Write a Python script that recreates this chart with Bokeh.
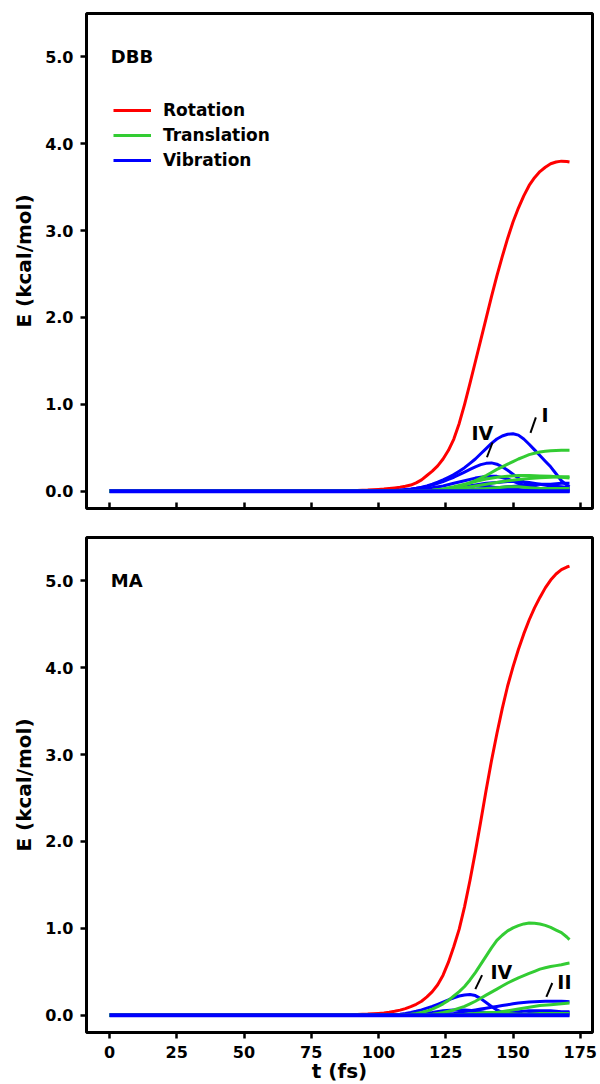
from bokeh.plotting import figure
from bokeh.layouts import column
from bokeh.models import (Range1d, FixedTicker, Label, Legend, LegendItem,
                          NumeralTickFormatter)
from bokeh.embed import file_html
from bokeh.resources import INLINE

# ---------------- data ----------------
# coarse time grid (fs) for the small curves
time_fs = [0, 40, 80, 84, 88, 92, 96, 100, 104, 108, 112, 116, 120, 124, 128,
           132, 136, 140, 144, 148, 152, 156, 160, 164, 168, 171]
# fine time grid (fs) for the big curves
time_fine = [0, 50, 90, 96] + list(range(100, 171, 2)) + [171]

# ----- DBB panel (kcal/mol) -----
dbb_rotation = [0, 0, 0.005, 0.012,
                0.02, 0.024, 0.03, 0.037, 0.045, 0.056, 0.07, 0.095, 0.13, 0.18,
                0.23, 0.29, 0.37, 0.47, 0.60, 0.78, 1.00, 1.24, 1.49, 1.74,
                1.99, 2.24, 2.48, 2.70, 2.91, 3.10, 3.26, 3.40, 3.52, 3.61,
                3.68, 3.73, 3.77, 3.79, 3.80, 3.795,
                3.79]
dbb_vib_I = [0, 0, 0, 0,
             0, 0.002, 0.005, 0.008, 0.012, 0.018, 0.025, 0.034, 0.045, 0.06,
             0.08, 0.103, 0.13, 0.16, 0.19, 0.23, 0.27, 0.32, 0.37, 0.43,
             0.49, 0.55, 0.60, 0.635, 0.655, 0.66, 0.645, 0.60, 0.54, 0.475,
             0.41, 0.345, 0.28, 0.20, 0.12, 0.07,
             0.05]
dbb_vib_IV = [0, 0, 0, 0,
              0, 0, 0, 0.002, 0.005, 0.012, 0.02, 0.03, 0.04, 0.055,
              0.07, 0.09, 0.11, 0.135, 0.16, 0.19, 0.22, 0.25, 0.28, 0.305,
              0.32, 0.325, 0.31, 0.28, 0.24, 0.195, 0.15, 0.105, 0.07, 0.045,
              0.03, 0.02, 0.01, 0.005, 0, 0,
              0]
dbb_trans_1 = [0, 0, 0, 0,
               0, 0, 0, 0, 0, 0, 0, 0, 0.005, 0.008,
               0.01, 0.015, 0.02, 0.03, 0.04, 0.055, 0.07, 0.095, 0.12, 0.15,
               0.18, 0.215, 0.25, 0.28, 0.31, 0.34, 0.37, 0.395, 0.42, 0.437,
               0.45, 0.458, 0.465, 0.468, 0.47, 0.47,
               0.47]
dbb_trans_2 = [0, 0, 0, 0, 0, 0, 0, 0, 0, 0, 0, 0, 0.01, 0.025, 0.05, 0.08, 0.11,
               0.14, 0.16, 0.17, 0.18, 0.18, 0.175, 0.17, 0.16, 0.15]
dbb_trans_3 = [0, 0, 0, 0, 0, 0, 0, 0, 0, 0, 0, 0, 0, 0.01, 0.02, 0.04, 0.06,
               0.08, 0.10, 0.12, 0.135, 0.145, 0.155, 0.16, 0.165, 0.165]
dbb_trans_4 = [0, 0, 0, 0, 0, 0, 0, 0, 0, 0, 0, 0, 0, 0, 0.005, 0.01, 0.02,
               0.03, 0.04, 0.05, 0.05, 0.04, 0.03, 0.03, 0.03, 0.03]
dbb_vib_3 = [0, 0, 0, 0, 0, 0, 0, 0, 0, 0.005, 0.01, 0.02, 0.04, 0.06, 0.09,
             0.12, 0.15, 0.17, 0.17, 0.14, 0.09, 0.05, 0.02, 0.01, 0, 0]
dbb_vib_4 = [0, 0, 0, 0, 0, 0, 0, 0, 0, 0, 0, 0.005, 0.01, 0.02, 0.03, 0.05, 0.07,
             0.09, 0.10, 0.11, 0.11, 0.10, 0.08, 0.06, 0.05, 0.04]
dbb_vib_5 = [0, 0, 0, 0, 0, 0, 0, 0, 0, 0, 0, 0, 0, 0, 0.005, 0.01, 0.02, 0.03,
             0.04, 0.05, 0.06, 0.07, 0.08, 0.08, 0.09, 0.09]
dbb_vib_6 = [0, 0, 0, 0, 0, 0, 0, 0, 0, 0, 0, 0, 0.01, 0.02, 0.03, 0.05, 0.06,
             0.06, 0.04, 0.02, 0.01, 0, 0, 0.01, 0.02, 0.03]
dbb_vib_7 = [0, 0, 0, 0, 0, 0, 0, 0, 0, 0, 0, 0, 0, 0, 0, 0.005, 0.01, 0.02,
             0.03, 0.03, 0.02, 0.01, 0.02, 0.03, 0.02, 0.01]
dbb_vib_8 = [0] * 26

# ----- MA panel (kcal/mol) -----
ma_rotation = [0, 0, 0.005, 0.012,
               0.02, 0.025, 0.033, 0.044, 0.058, 0.075, 0.098, 0.125, 0.16, 0.21,
               0.27, 0.35, 0.46, 0.61, 0.79, 0.99, 1.25, 1.55, 1.88, 2.23,
               2.59, 2.93, 3.24, 3.53, 3.79, 4.01, 4.21, 4.39, 4.55, 4.69,
               4.81, 4.92, 5.01, 5.08, 5.13, 5.16,
               5.17]
ma_trans_1 = [0, 0, 0, 0,
              0, 0, 0, 0, 0.005, 0.007, 0.01, 0.018, 0.03, 0.047,
              0.07, 0.097, 0.13, 0.17, 0.22, 0.27, 0.33, 0.405, 0.49, 0.585,
              0.68, 0.775, 0.86, 0.92, 0.97, 1.005, 1.03, 1.05, 1.06, 1.058,
              1.05, 1.033, 1.01, 0.98, 0.95, 0.90,
              0.87]
ma_trans_2 = [0, 0, 0, 0,
              0, 0, 0, 0, 0, 0, 0, 0, 0.005, 0.007,
              0.01, 0.02, 0.03, 0.045, 0.06, 0.08, 0.10, 0.13, 0.16, 0.195,
              0.23, 0.265, 0.30, 0.335, 0.37, 0.40, 0.43, 0.455, 0.48, 0.505,
              0.53, 0.545, 0.56, 0.57, 0.58, 0.595,
              0.60]
ma_vib_IV = [0, 0, 0, 0,
             0, 0.002, 0.005, 0.007, 0.01, 0.018, 0.03, 0.044, 0.06, 0.08,
             0.10, 0.125, 0.15, 0.175, 0.20, 0.22, 0.232, 0.238, 0.225, 0.19,
             0.145, 0.10, 0.06, 0.03, 0.012, 0.004, 0.0, 0.008, 0.02, 0.028,
             0.03, 0.027, 0.02, 0.014, 0.01, 0.003,
             0]
ma_vib_II = [0, 0, 0, 0,
             0, 0, 0, 0, 0, 0, 0, 0, 0, 0,
             0.005, 0.007, 0.01, 0.015, 0.02, 0.03, 0.04, 0.05, 0.06, 0.07,
             0.08, 0.09, 0.10, 0.11, 0.12, 0.13, 0.14, 0.145, 0.15, 0.155,
             0.158, 0.16, 0.16, 0.16, 0.16, 0.157,
             0.155]
ma_trans_3 = [0, 0, 0, 0, 0, 0, 0, 0, 0, 0, 0, 0, 0, 0, 0, 0.005, 0.01, 0.02,
              0.03, 0.05, 0.07, 0.09, 0.11, 0.12, 0.13, 0.14]
ma_trans_4 = [0, 0, 0, 0, 0, 0, 0, 0, 0, 0, 0, 0, 0, 0, 0.005, 0.01, 0.02, 0.03,
              0.03, 0.02, 0.01, 0.01, 0.02, 0.02, 0.02, 0.02]
ma_vib_3 = [0, 0, 0, 0, 0, 0, 0, 0, 0, 0, 0.01, 0.02, 0.03, 0.05, 0.06, 0.06,
            0.05, 0.03, 0.01, 0, 0, 0.01, 0.02, 0.03, 0.03, 0.03]
ma_vib_4 = [0, 0, 0, 0, 0, 0, 0, 0, 0, 0, 0, 0, 0, 0, 0.005, 0.01, 0.02, 0.03,
            0.03, 0.04, 0.04, 0.05, 0.05, 0.05, 0.04, 0.04]
ma_vib_5 = [0] * 26

x_ticks = [0, 25, 50, 75, 100, 125, 150, 175]
y_ticks = [0, 1, 2, 3, 4, 5]
legend_labels = ["Rotation", "Translation", "Vibration"]

# annotation texts / leader lines (data coordinates)
dbb_notes = [("IV", 138.6, 0.675), ("I", 161.9, 0.88)]
dbb_leaders = dict(x0=[140.3, 156.5], y0=[0.39, 0.67], x1=[142.4, 158.5], y1=[0.56, 0.85])
ma_notes = [("IV", 145.7, 0.50), ("II", 169.1, 0.38)]
ma_leaders = dict(x0=[136.0, 162.4], y0=[0.30, 0.21], x1=[138.5, 164.6], y1=[0.46, 0.37])

FONT = "DejaVu Sans"
RED, GREEN, BLUE = "#ff0000", "#33cc33", "#0000ff"
X_RANGE = (-8.55, 179.55)
Y_RANGE = (-0.2, 5.5)


def make_panel(name, rot, trans, vibs, base, notes, leaders, top, bottom, show_x, legend):
    p = figure(frame_width=506, frame_height=495,
               x_range=Range1d(*X_RANGE), y_range=Range1d(*Y_RANGE),
               output_backend="svg", toolbar_location=None,
               min_border_left=86, min_border_right=8,
               min_border_top=top, min_border_bottom=bottom)
    p.grid.visible = False
    p.background_fill_color = "white"
    p.border_fill_color = "white"
    p.outline_line_color = "black"
    p.outline_line_width = 3
    p.outline_line_alpha = 1

    for ax in (p.xaxis[0], p.yaxis[0]):
        ax.axis_line_color = None
        ax.minor_tick_line_color = None
        ax.major_tick_line_width = 2.5
        ax.major_tick_line_color = "black"
        ax.major_label_text_font = FONT
        ax.major_label_text_font_style = "bold"
        ax.major_label_text_font_size = "16px"
        ax.major_label_text_color = "black"
        ax.major_label_standoff = 7
        ax.axis_label_text_font = FONT
        ax.axis_label_text_font_style = "bold"
        ax.axis_label_text_font_size = "20px"
        ax.axis_label_text_color = "black"

    p.xaxis.ticker = FixedTicker(ticks=x_ticks)
    p.xaxis.formatter = NumeralTickFormatter(format="0")
    p.yaxis.ticker = FixedTicker(ticks=y_ticks)
    p.yaxis.formatter = NumeralTickFormatter(format="0.0")
    p.yaxis.major_tick_out = 6
    p.yaxis.major_tick_in = 0
    p.yaxis.axis_label = "E (kcal/mol)"
    p.yaxis.axis_label_standoff = 6
    if show_x:
        p.xaxis.major_tick_out = 6
        p.xaxis.major_tick_in = 0
        p.xaxis.axis_label = "t (fs)"
        p.xaxis.axis_label_standoff = -2
    else:
        p.xaxis.major_tick_out = 0
        p.xaxis.major_tick_in = 6
        p.xaxis.major_label_overrides = {t: "" for t in x_ticks}
        p.xaxis.major_label_standoff = 0

    # rotation first, then vibration, translation, and the flat vibration
    # baseline drawn last (as in the reference, where the t<100 line is blue)
    r_rot = p.line(time_fine, rot, line_color=RED, line_width=3, line_join="round")
    r_vib = None
    for tt, v in vibs:
        r = p.line(tt, v, line_color=BLUE, line_width=3, line_join="round")
        r_vib = r_vib or r
    r_tr = None
    for tt, tr in trans:
        r = p.line(tt, tr, line_color=GREEN, line_width=3, line_join="round")
        r_tr = r_tr or r
    p.line(time_fs, base, line_color=BLUE, line_width=4, line_join="round")

    p.segment(x0=leaders["x0"], y0=leaders["y0"], x1=leaders["x1"], y1=leaders["y1"],
              line_color="black", line_width=2)
    for txt, x, y in notes:
        p.add_layout(Label(x=x, y=y, text=txt, text_font=FONT, text_font_style="bold",
                           text_font_size="19px", text_align="center",
                           text_baseline="middle", text_color="black"))

    p.add_layout(Label(x=0.5, y=5.0, text=name, text_font=FONT, text_font_style="bold",
                       text_font_size="18px", text_align="left",
                       text_baseline="alphabetic", text_color="black"))

    if legend:
        lg = Legend(items=[LegendItem(label=legend_labels[0], renderers=[r_rot]),
                           LegendItem(label=legend_labels[1], renderers=[r_tr]),
                           LegendItem(label=legend_labels[2], renderers=[r_vib])],
                    location=(27, 338), orientation="vertical",
                    glyph_width=38, glyph_height=20, label_height=20, spacing=5,
                    padding=0, margin=0, label_standoff=12,
                    label_text_font=FONT, label_text_font_style="bold",
                    label_text_font_size="17px", label_text_color="black",
                    border_line_color=None, background_fill_alpha=0)
        p.add_layout(lg)
    return p


p1 = make_panel("DBB", dbb_rotation,
                [(time_fine, dbb_trans_1), (time_fs, dbb_trans_2),
                 (time_fs, dbb_trans_3), (time_fs, dbb_trans_4)],
                [(time_fs, dbb_vib_7), (time_fs, dbb_vib_6),
                 (time_fs, dbb_vib_5), (time_fs, dbb_vib_4), (time_fs, dbb_vib_3),
                 (time_fine, dbb_vib_IV), (time_fine, dbb_vib_I)],
                dbb_vib_8,
                dbb_notes, dbb_leaders, top=13, bottom=15, show_x=False, legend=True)
p2 = make_panel("MA", ma_rotation,
                [(time_fine, ma_trans_1), (time_fine, ma_trans_2),
                 (time_fs, ma_trans_3), (time_fs, ma_trans_4)],
                [(time_fs, ma_vib_4), (time_fs, ma_vib_3),
                 (time_fine, ma_vib_II), (time_fine, ma_vib_IV)],
                ma_vib_5,
                ma_notes, ma_leaders, top=14, bottom=52, show_x=True, legend=False)

layout = column(p1, p2, spacing=0)
open("out.html", "w").write(file_html(layout, INLINE))
